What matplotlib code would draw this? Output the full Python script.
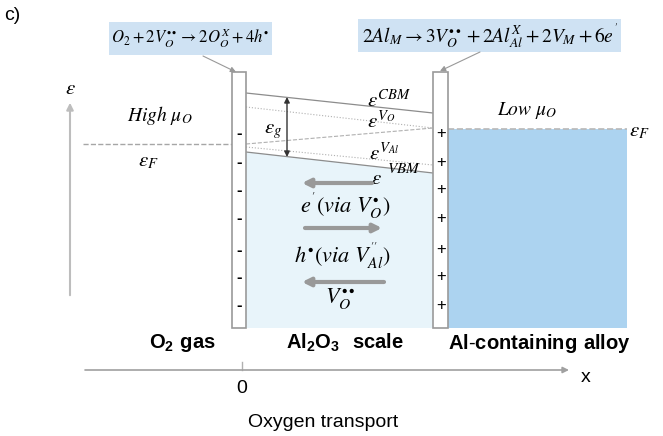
import numpy as np
import matplotlib.pyplot as plt
from matplotlib.patches import Rectangle, Polygon

plt.rcParams['mathtext.fontset'] = 'stix'
plt.rcParams['mathtext.rm'] = 'Liberation Sans'
plt.rcParams['mathtext.bf'] = 'Liberation Sans:bold'
plt.rcParams['font.family'] = ['Liberation Sans', 'DejaVu Sans']

# schematic geometry (pixel-like units, y grows downward)
scale_x = [246, 433]
bottom_y = 328
electrode_top = 72
left_electrode = [232, 246]
right_electrode = [433, 448]
alloy_x = [448, 627]
fermi_left = 144
fermi_right = 129

# band levels across the oxide scale: (left y, right y, style)
band_names = ['CBM', 'V_O', 'fermi', 'V_Al', 'VBM']
band_left = [93, 107, 144, 147, 152]
band_right = [113, 128, 128, 165, 173]
band_styles = ['-', ':', '--', ':', '-']

minus_y = [133, 162, 190, 218, 250, 277, 305]
plus_y = [133, 162, 189, 218, 249, 276, 305]

region_labels = [r'$\mathbf{O_2\ gas}$', r'$\mathbf{Al_2O_3\ \ scale}$',
                 r'$\mathbf{Al}$-$\mathbf{containing\ alloy}$']
region_x = [182, 345, 539]

grey = '#a6a6a6'

fig = plt.figure(figsize=(6.63, 4.36), dpi=100)
ax = fig.add_axes([0, 0, 1, 1])
ax.set_xlim(0, 663)
ax.set_ylim(436, 0)
ax.axis('off')

# oxide scale fill under the VBM
vbm_l, vbm_r = band_left[-1], band_right[-1]
ax.add_patch(Polygon([(scale_x[0], vbm_l), (scale_x[1], vbm_r),
                      (scale_x[1], bottom_y), (scale_x[0], bottom_y)],
                     closed=True, fc='#e8f4fa', ec='none', zorder=1))

# alloy
ax.add_patch(Rectangle((alloy_x[0], fermi_right), alloy_x[1] - alloy_x[0],
                       bottom_y - fermi_right, fc='#acd3f0', ec='none', zorder=1))

# electrodes
for x0, x1 in [left_electrode, right_electrode]:
    ax.add_patch(Rectangle((x0, electrode_top), x1 - x0, bottom_y - electrode_top,
                           fc='white', ec='#9a9a9a', lw=1.2, zorder=3))

# band lines
for yl, yr, ls in zip(band_left, band_right, band_styles):
    lw = 0.9 if ls == '-' else 0.8
    c = '#8c8c8c' if ls == '-' else '#b0b0b0'
    ax.plot(scale_x, [yl, yr], ls=ls, color=c, lw=lw, zorder=2)

# fermi levels outside
ax.plot([83, left_electrode[0]], [fermi_left, fermi_left], ls='--', color=grey, lw=1, zorder=2)
ax.plot([alloy_x[0], alloy_x[1]], [fermi_right, fermi_right], ls='--', color='#b8b8b8', lw=1.2, zorder=2)

# charges
for y in minus_y:
    ax.text(239, y, '-', ha='center', va='center', fontsize=12, fontweight='bold', zorder=4)
for y in plus_y:
    ax.text(441, y, '+', ha='center', va='center', fontsize=12, zorder=4)

# energy axis
ax.annotate('', xy=(70, 100), xytext=(70, 298),
            arrowprops=dict(arrowstyle='-|>', color='#bdbdbd', lw=1.5, mutation_scale=10))
ax.text(70, 88, r'$\varepsilon$', ha='center', va='center', fontsize=15)

# band gap arrow
ax.annotate('', xy=(287, 97), xytext=(287, 157),
            arrowprops=dict(arrowstyle='<|-|>', color='#333333', lw=1, mutation_scale=8,
                            shrinkA=0, shrinkB=0))
ax.text(273, 131, r'$\varepsilon_g$', ha='center', va='center', fontsize=15)

ax.text(160, 115, r'$High\ \mu_O$', ha='center', va='center', fontsize=14)
ax.text(148, 161, r'$\varepsilon_F$', ha='center', va='center', fontsize=15)
ax.text(527, 110, r'$Low\ \mu_O$', ha='center', va='center', fontsize=14)
ax.text(629, 131, r'$\varepsilon_F$', ha='left', va='center', fontsize=15)

ax.text(367, 100, r'$\varepsilon^{CBM}$', ha='left', va='center', fontsize=15)
ax.text(367, 121, r'$\varepsilon^{V_O}$', ha='left', va='center', fontsize=15)
ax.text(369, 153, r'$\varepsilon^{V_{Al}}$', ha='left', va='center', fontsize=15)
ax.text(387, 169, r'$VBM$', ha='left', va='center', fontsize=11)
ax.text(376, 178, r'$\varepsilon$', ha='center', va='center', fontsize=15)

# fluxes through the scale
flux_arrows = [(372, 302, 183), (305, 382, 228), (384, 302, 282)]
for xs, xe, y in flux_arrows:
    ax.annotate('', xy=(xe, y), xytext=(xs, y),
                arrowprops=dict(arrowstyle='-|>', color='#999999', lw=3, mutation_scale=12,
                                shrinkA=0, shrinkB=0))
ax.text(345, 206, r"$e^{'}(via\ V_O^{\bullet})$", ha='center', va='center', fontsize=16)
ax.text(342, 256, r"$h^{\bullet}(via\ V_{Al}^{''})$", ha='center', va='center', fontsize=16)
ax.text(340, 298, r"$V_O^{\bullet\bullet}$", ha='center', va='center', fontsize=16)

# reaction boxes
ax.add_patch(Rectangle((109, 22), 163, 33, fc='#cfe2f3', ec='none', zorder=1))
ax.text(190, 38, r'$O_2+2V_O^{\bullet\bullet}\rightarrow 2O_O^X+4h^{\bullet}$',
        ha='center', va='center', fontsize=12, zorder=2)
ax.add_patch(Rectangle((358, 19), 263, 33, fc='#cfe2f3', ec='none', zorder=1))
ax.text(490, 36, r"$2Al_M\rightarrow 3V_O^{\bullet\bullet}+2Al_{Al}^X+2V_M+6e^{'}$",
        ha='center', va='center', fontsize=14, zorder=2)
ax.annotate('', xy=(236, 72), xytext=(203, 56),
            arrowprops=dict(arrowstyle='-|>', color='#999999', lw=0.8, mutation_scale=8,
                            shrinkA=0, shrinkB=0))
ax.annotate('', xy=(440, 71), xytext=(480, 52),
            arrowprops=dict(arrowstyle='-|>', color='#999999', lw=0.8, mutation_scale=8,
                            shrinkA=0, shrinkB=0))

# region labels
for lab, x in zip(region_labels, region_x):
    ax.text(x, 343, lab, ha='center', va='center', fontsize=14.5, math_fontfamily='custom')

# x axis
ax.annotate('', xy=(569, 370), xytext=(85, 370),
            arrowprops=dict(arrowstyle='-|>', color='#a0a0a0', lw=1.2, mutation_scale=9,
                            shrinkA=0, shrinkB=0))
ax.plot([242, 242], [362, 370], color='#b0b0b0', lw=1)
ax.text(242, 388, '0', ha='center', va='center', fontsize=14)
ax.text(586, 377, 'x', ha='center', va='center', fontsize=14)
ax.text(323, 422, 'Oxygen transport', ha='center', va='center', fontsize=14)

ax.text(4, 16, 'c)', ha='left', va='center', fontsize=14)

fig.savefig('out.png', dpi=100)
